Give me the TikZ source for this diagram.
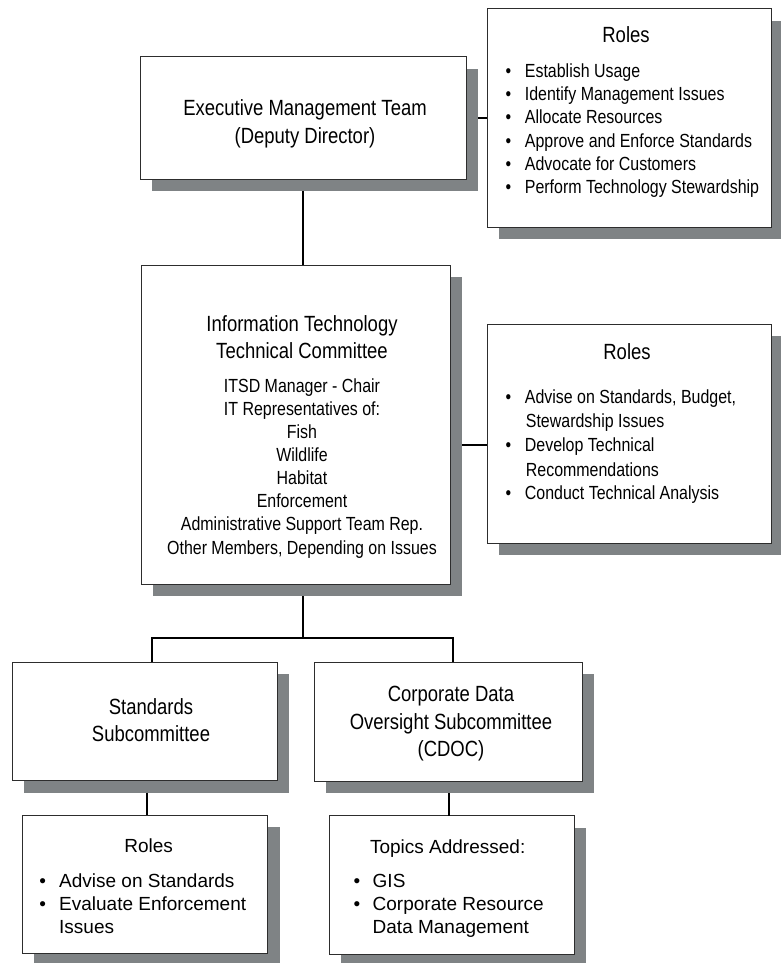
\documentclass[tikz,border=0pt]{standalone}
\usepackage{fontspec}
\setmainfont{Liberation Sans}[FakeStretch=0.84]
\newfontfamily\plainsans{Liberation Sans}
\usetikzlibrary{shadows}
\definecolor{shgray}{RGB}{127,131,133}
\definecolor{bordergray}{RGB}{45,45,45}
\begin{document}
\begin{tikzpicture}[x=1pt,y=-1pt,
  box/.style={draw=bordergray, line width=1pt, fill=white, anchor=north west,
    inner sep=0pt, outer sep=0pt,
    drop shadow={shadow xshift=12pt, shadow yshift=-12pt, fill=shgray, opacity=1}},
  conn/.style={line width=2pt, draw=black},
  ttl/.style={font=\fontsize{22}{27}\selectfont, anchor=base, inner sep=0pt},
  txt/.style={font=\fontsize{19}{23}\selectfont, anchor=base, inner sep=0pt},
  itm/.style={font=\fontsize{19}{23}\selectfont, anchor=base west, inner sep=0pt},
  bul/.style={font=\fontsize{19}{23}\selectfont, anchor=base, inner sep=0pt},
  ptxt/.style={font=\plainsans\fontsize{19}{23}\selectfont, anchor=base, inner sep=0pt},
  pitm/.style={font=\plainsans\fontsize{19}{23}\selectfont, anchor=base west, inner sep=0pt},
]
\useasboundingbox (0,0) rectangle (781,963);

% ---------- coordinates for connector bends ----------
\coordinate (busl) at (152,638);
\coordinate (busr) at (453,638);
\coordinate (itr) at (450,445);

% ---------- boxes ----------
\node[box, minimum width=325.7pt, minimum height=122pt] (emt) at (140.3,57) {};
\node[box, minimum width=283.7pt, minimum height=218.3pt] (roles1) at (487.3,9) {};
\node[box, minimum width=309pt, minimum height=319.3pt] (ittc) at (141,265) {};
\node[box, minimum width=283.7pt, minimum height=219pt] (roles2) at (487.3,324.3) {};
\node[box, minimum width=264.7pt, minimum height=118.7pt] (std) at (12.3,662) {};
\node[box, minimum width=268pt, minimum height=119pt] (cdoc) at (314,662) {};
\node[box, minimum width=245.4pt, minimum height=138pt] (stdr) at (22.3,815) {};
\node[box, minimum width=245.3pt, minimum height=138.3pt] (cdocr) at (329,815.7) {};

% ---------- connectors (start at the shadow's edge) ----------
\begin{scope}[conn]
  \draw ([xshift=12pt]emt.east) -- (emt.east -| roles1.west);
  \draw ([yshift=-12pt]emt.south) -- (emt.south |- ittc.north);
  \draw ([xshift=12pt]itr) -- (itr -| roles2.west);
  \draw ([yshift=-12pt]emt.south |- ittc.south) -- (emt.south |- busl);
  \draw (busl |- std.north) -- (busl) -- (busr) -- (busr |- cdoc.north);
  \draw ([yshift=-12pt, xshift=2pt]std.south) -- ([xshift=2pt]std.south |- stdr.north);
  \draw ([yshift=-12pt, xshift=1pt]cdoc.south) -- ([xshift=1pt]cdoc.south |- cdocr.north);
\end{scope}

% ---------- Executive Management Team ----------
\node[ttl] (emt1) at (305,116) {Executive Management Team};
\node[ttl] (emt2) at (305,143.3) {(Deputy Director)};

% ---------- Roles (top) ----------
\node[ttl] (r1t) at (626,42.7) {Roles};
\foreach \yy/\tt [count=\i] in {77.5/Establish Usage,
    100.7/Identify Management Issues,
    123.9/Allocate Resources,
    147.1/Approve and Enforce Standards,
    170.3/Advocate for Customers,
    193.5/Perform Technology Stewardship} {
  \node[bul] (r1b\i) at (508.3,\yy) {•};
  \node[itm] (r1i\i) at (524.7,\yy) {\tt};
}

% ---------- IT Technical Committee ----------
\node[ttl] (it1) at (302,331.7) {Information Technology};
\node[ttl] (it2) at (302,358.3) {Technical Committee};
\foreach \yy/\tt [count=\i] in {392.3/ITSD Manager - Chair,
    415.4/IT Representatives of:,
    438.5/Fish,
    461.6/Wildlife,
    484.7/Habitat,
    507.8/Enforcement,
    530.9/Administrative Support Team Rep.,
    554/{Other Members, Depending on Issues}} {
  \node[txt] (itl\i) at (302,\yy) {\tt};
}

% ---------- Roles (middle) ----------
\node[ttl] (r2t) at (627,359.3) {Roles};
\node[bul] (r2b1) at (508.3,403.3) {•};
\node[itm] (r2i1) at (524.7,403.3) {Advise on Standards, Budget,};
\node[itm] (r2i2) at (525.7,427.7) {Stewardship Issues};
\node[bul] (r2b2) at (508.3,451.7) {•};
\node[itm] (r2i3) at (524.7,451.7) {Develop Technical};
\node[itm] (r2i4) at (525.7,476) {Recommendations};
\node[bul] (r2b3) at (508.3,499.3) {•};
\node[itm] (r2i5) at (524.7,499.3) {Conduct Technical Analysis};

% ---------- Standards Subcommittee ----------
\node[ttl] (st1) at (151,714.3) {Standards};
\node[ttl] (st2) at (151,741.7) {Subcommittee};

% ---------- CDOC ----------
\node[ttl] (cd1) at (451,701.7) {Corporate Data};
\node[ttl] (cd2) at (451,729) {Oversight Subcommittee};
\node[ttl] (cd3) at (451,756.5) {(CDOC)};

% ---------- Roles (bottom left) ----------
\node[ptxt] (r3t) at (148.7,852) {Roles};
\node[ptxt] (r3b1) at (42.7,887.3) {•};
\node[pitm] (r3i1) at (59,887.3) {Advise on Standards};
\node[ptxt] (r3b2) at (42.7,910.3) {•};
\node[pitm] (r3i2) at (59,910.3) {Evaluate Enforcement};
\node[pitm] (r3i3) at (59,933) {Issues};

% ---------- Topics Addressed (bottom right) ----------
\node[ptxt] (tat) at (447.7,853.3) {Topics Addressed:};
\node[ptxt] (tab1) at (357,887.3) {•};
\node[pitm] (tai1) at (372.5,887.3) {GIS};
\node[ptxt] (tab2) at (357,910.3) {•};
\node[pitm] (tai2) at (372.5,910.3) {Corporate Resource};
\node[pitm] (tai3) at (372.5,933.3) {Data Management};
\end{tikzpicture}
\end{document}
